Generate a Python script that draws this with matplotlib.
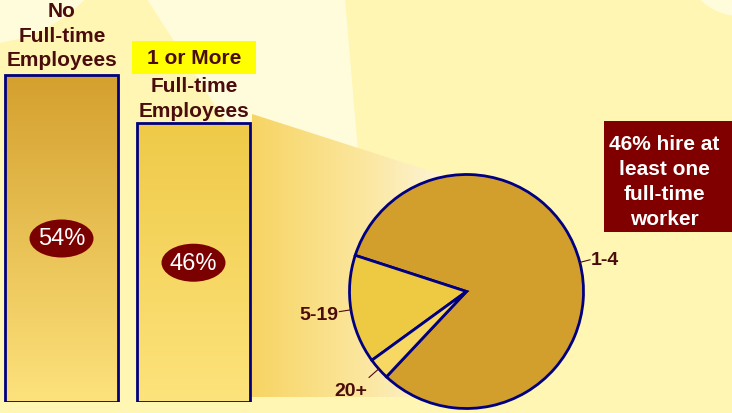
import numpy as np
import matplotlib.pyplot as plt
from matplotlib.patches import Polygon, Rectangle, Ellipse, Circle
from matplotlib.colors import LinearSegmentedColormap

plt.rcParams['font.family'] = ['Liberation Sans', 'DejaVu Sans']

# share of firms with / without full-time employees
share_values = [54, 46]
share_labels = ['54%', '46%']
# firm size among those that hire at least one full-time worker
size_names = ['1-4', '5-19', '20+']
size_values = [82, 15, 3]
note = '46% hire at\nleast one\nfull-time\nworker'

W, H = 732, 414
txt_col = '#4a0c0c'
navy = '#000080'
maroon = '#7b0000'
light = '#fffcdc'

fig = plt.figure(figsize=(W / 100, H / 100), dpi=100)
fig.patch.set_facecolor('#fff6b4')

# background in pixel coords
bg = fig.add_axes([0, 0, 1, 1])
bg.axis('off')
bg.add_patch(Circle((-20, -100), 145, color=light, lw=0))
bg.add_patch(Circle((740, -40), 57, color=light, lw=0))
bg.add_patch(Polygon([(147, 0), (345, 0), (362, 200), (275, 200)], color=light, lw=0))

# fan from the second bar towards the pie
fan = Polygon([(252, 115), (480, 188), (480, 398), (252, 398)], closed=True, fc='none', lw=0)
bg.add_patch(fan)
fan_cm = LinearSegmentedColormap.from_list('fan', ['#f7d463', '#fbe7a0', '#fffaf0'])
im = bg.imshow(np.linspace(0, 1, 256).reshape(1, -1), cmap=fan_cm,
               extent=(252, 480, 398, 115), aspect='auto', zorder=1)
im.set_clip_path(fan)

# headings
bg.text(62, 36, 'No\nFull-time\nEmployees', ha='center', va='center', fontsize=15,
        fontweight='bold', color=txt_col, linespacing=1.38)
bg.add_patch(Rectangle((132, 42), 124, 33, color='#ffff00', lw=0))
bg.text(194, 59, '1 or More', ha='center', va='center', fontsize=15,
        fontweight='bold', color=txt_col)
bg.text(194, 99, 'Full-time\nEmployees', ha='center', va='center', fontsize=15,
        fontweight='bold', color=txt_col, linespacing=1.35)

# note box
bg.add_patch(Rectangle((604, 122), 130, 111, color='#800000', lw=0))
bg.text(664, 182, note, ha='center', va='center', fontsize=15, fontweight='bold',
        color='white', linespacing=1.42)

bg.set_xlim(0, W)
bg.set_ylim(H, 0)

# bars
px_unit = 327 / 54
bax = fig.add_axes([0, 11 / H, 260 / W, 403 / H])
bax.axis('off')
bars = bax.bar([0, 1], share_values, width=113 / 132, color='none',
               edgecolor=navy, linewidth=2, zorder=3)
grads = [['#d4a02e', '#fde27c'], ['#efca48', '#fde37c']]
for b, cols, lab in zip(bars, grads, share_labels):
    x0, w, h = b.get_x(), b.get_width(), b.get_height()
    cm = LinearSegmentedColormap.from_list('g', cols)
    gi = bax.imshow(np.linspace(0, 1, 256).reshape(-1, 1), cmap=cm,
                    extent=(x0, x0 + w, 0, h), aspect='auto', zorder=2)
    gi.set_clip_path(b)
    cx = x0 + w / 2
    bax.add_patch(Ellipse((cx, h / 2), 64 / 132, 38 / px_unit, color=maroon, lw=0, zorder=4))
    bax.text(cx, h / 2, lab, ha='center', va='center', fontsize=17, color='white', zorder=5)
bax.set_xlim(-61.5 / 132, (260 - 61.5) / 132)
bax.set_ylim(0, 403 / px_unit)

# pie
pax = fig.add_axes([349.5 / W, (H - 409.5) / H, 234 / W, 234 / H])
start = 162 - 360 * size_values[0] / sum(size_values)
wedges, _ = pax.pie(size_values, colors=['#d29f2d', '#edca42', '#f6d862'],
                    startangle=start, counterclock=True,
                    wedgeprops=dict(edgecolor=navy, linewidth=2))
for wdg in wedges:
    wdg.set_clip_on(False)

# labels with leader lines
fracs = np.array(size_values) / sum(size_values)
mids = start + 360 * (np.cumsum(fracs) - fracs / 2)
lab_pos = [(1.1, 'left', 'center', (0, 0)), (1.11, 'right', 'center', (0, -2)),
           (1.12, 'right', 'top', (-1, -3))]
for name, ang, (r, ha, va, off) in zip(size_names, mids, lab_pos):
    a = np.deg2rad(ang)
    c, s = np.cos(a), np.sin(a)
    pax.plot([c, c * (r - 0.01)], [s, s * (r - 0.01)], color=txt_col, lw=0.8, clip_on=False)
    pax.annotate(name, (c * r, s * r), xytext=off, textcoords='offset points',
                 ha=ha, va=va, fontsize=14, fontweight='bold', color=txt_col,
                 annotation_clip=False)
pax.set_xlim(-1, 1)
pax.set_ylim(-1, 1)

fig.savefig('out.png', dpi=100)
